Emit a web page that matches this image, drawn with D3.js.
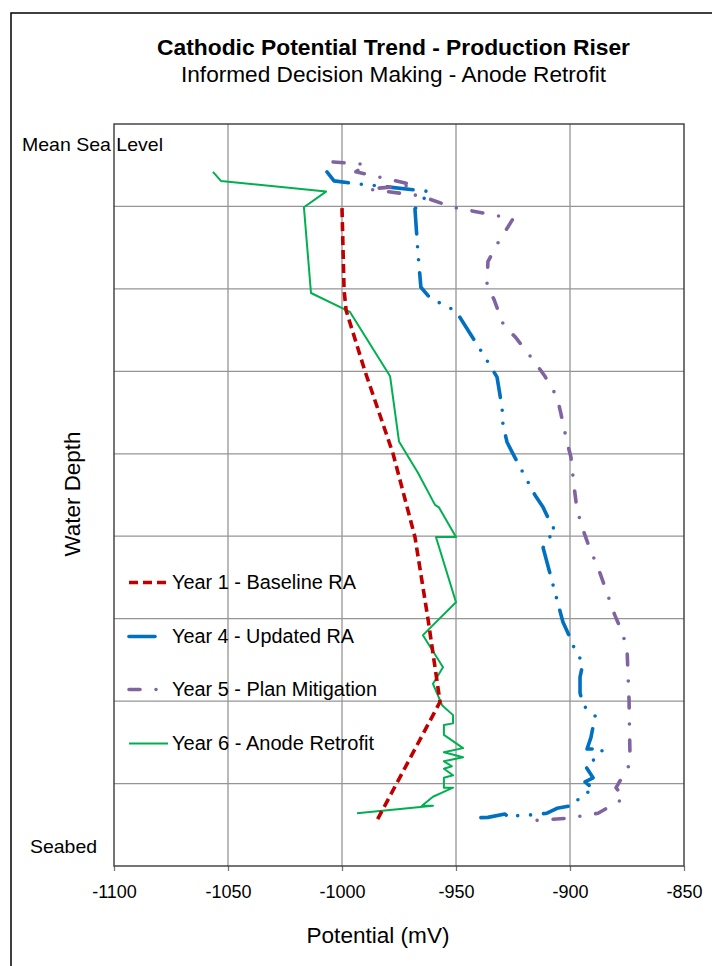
<!DOCTYPE html>
<html>
<head>
<meta charset="utf-8">
<script src="https://cdn.jsdelivr.net/npm/d3@7/dist/d3.min.js"></script>
<style>
  html, body { margin: 0; padding: 0; background: #fff; }
  svg { display: block; }
  text { font-family: "Liberation Sans", Arial, Helvetica, sans-serif; fill: #000; }
</style>
</head>
<body>
<svg id="chart" width="712" height="966"></svg>
<script>
// ---------- data ----------
const xTicks = [-1100, -1050, -1000, -950, -900, -850];
const depthGrid = [1, 2, 3, 4, 5, 6, 7, 8];
const seriesNames = ["Year 1 - Baseline RA", "Year 4 - Updated RA", "Year 5 - Plan Mitigation", "Year 6 - Anode Retrofit"];

// Year 1 - Baseline RA
const year1Potential = [-1000, -999.1, -998.2, -989.9, -977.6, -968, -962.3, -957, -985.1];
const year1Depth     = [1.02, 2.01, 2.26, 3.0, 4.0, 5.01, 6.0, 7.01, 8.47];

// Year 4 - Updated RA
const year4Potential = [-1006.6, -1003.5, -995.2, -981.1, -961.4, -968, -966.7, -965.4, -961.4, -950,
  -938.6, -932, -929.8, -929.4, -927.6, -925.4, -915.4, -911.8, -909.2, -906.1,
  -910.1, -911.8, -908.8, -906.6, -903.1, -900, -897.8, -894.3, -895.6, -895.6,
  -894.3, -889, -890.8, -892.5, -885.5, -887.7, -893.4, -889.9, -893.4, -889.5,
  -895.6, -897.8, -905.7, -910.1, -916.2, -921.9, -926.3, -928.5, -936, -944.7];
const year4Depth = [0.58, 0.69, 0.72, 0.76, 0.82, 1.03, 1.56, 1.98, 2.11, 2.27,
  2.77, 3.07, 3.44, 3.65, 3.86, 3.98, 4.50, 4.65, 4.80, 4.96,
  5.03, 5.14, 5.45, 5.68, 6.04, 6.23, 6.38, 6.54, 6.71, 6.90,
  7.05, 7.18, 7.44, 7.58, 7.58, 7.68, 7.78, 7.93, 7.98, 8.07,
  8.15, 8.26, 8.30, 8.36, 8.38, 8.38, 8.42, 8.37, 8.41, 8.42];

// Year 5 - Plan Mitigation
const year5Potential = [-1003.9, -989.5, -993.9, -968.4, -988.6, -965.8, -951.3, -925, -932, -936,
  -936.4, -933.3, -929, -924.1, -916.2, -911, -905.7, -904, -901.3, -899.6,
  -898.2, -896.9, -894.3, -892.1, -886.8, -880.3, -877.2, -875, -874.1, -873.7,
  -874.1, -879.8, -876.3, -887.7, -900.9, -916.2];
const year5Depth = [0.46, 0.49, 0.58, 0.74, 0.79, 0.87, 1.01, 1.15, 1.46, 1.67,
  1.95, 2.13, 2.45, 2.58, 2.86, 3.06, 3.31, 3.51, 3.86, 4.04,
  4.40, 4.68, 4.92, 5.09, 5.45, 5.96, 6.16, 6.36, 6.99, 7.65,
  7.78, 8.05, 8.18, 8.36, 8.42, 8.45];

// Year 6 - Anode Retrofit
const year6Potential = [-1056.6, -1053.1, -1007, -1016.7, -1013.6, -996.5, -978.9, -975, -966.7, -959.2,
  -957.5, -950, -958.8, -950, -964.5, -955.7, -960.1, -956.1, -951.3, -951.3,
  -955.3, -955.3, -946.9, -955.3, -946.9, -955.3, -951.8, -955.3, -951.3, -955.3,
  -955.3, -951.3, -956.1, -960.1, -963.6, -964.9, -960.1, -993.4];
const year6Depth = [0.58, 0.69, 0.82, 1.01, 2.05, 2.28, 3.06, 3.85, 4.23, 4.62,
  4.65, 5.01, 5.01, 5.80, 6.20, 6.59, 6.79, 7.05, 7.17, 7.27,
  7.29, 7.41, 7.57, 7.62, 7.68, 7.73, 7.79, 7.82, 7.90, 7.93,
  8.05, 8.05, 8.11, 8.16, 8.24, 8.27, 8.27, 8.36];

// ---------- layout ----------
const svg = d3.select("#chart");
const plot = { left: 114, right: 684, top: 124, bottom: 866 };
const x = d3.scaleLinear().domain([-1100, -850]).range([plot.left, plot.right]);
const y = d3.scaleLinear().domain([0, 9]).range([plot.top, plot.bottom]);

// outer frame
svg.append("rect").attr("x", 11).attr("y", 13).attr("width", 760).attr("height", 1000)
  .attr("fill", "none").attr("stroke", "#000").attr("stroke-width", 1.5);

// title
svg.append("text").attr("x", 393.5).attr("y", 55).attr("text-anchor", "middle")
  .attr("font-size", 22.5).attr("font-weight", "bold")
  .attr("textLength", 473).attr("lengthAdjust", "spacingAndGlyphs")
  .text("Cathodic Potential Trend - Production Riser");
svg.append("text").attr("x", 393.5).attr("y", 82).attr("text-anchor", "middle")
  .attr("font-size", 22.5)
  .attr("textLength", 425).attr("lengthAdjust", "spacingAndGlyphs")
  .text("Informed Decision Making - Anode Retrofit");

// gridlines
const grid = svg.append("g");
grid.selectAll("line.v").data(xTicks.slice(1, -1)).join("line")
  .attr("x1", d => x(d)).attr("x2", d => x(d)).attr("y1", plot.top).attr("y2", plot.bottom)
  .attr("stroke", "#959595").attr("stroke-width", 1.3);
grid.selectAll("line.h").data(depthGrid).join("line")
  .attr("x1", plot.left).attr("x2", plot.right).attr("y1", d => y(d)).attr("y2", d => y(d))
  .attr("stroke", "#959595").attr("stroke-width", 1.3);

// x axis
const xAxis = d3.axisBottom(x).tickValues(xTicks).tickSize(5).tickPadding(14).tickFormat(d3.format("d"));
const gx = svg.append("g").attr("transform", `translate(0,${plot.bottom})`).call(xAxis);
gx.select(".domain").remove();
gx.selectAll(".tick line").attr("stroke", "#777").attr("stroke-width", 1.3);
gx.selectAll(".tick text").attr("font-size", 18).attr("font-family", "Liberation Sans, Arial, sans-serif")
  .attr("fill", "#000").text(d => d < 0 ? "-" + Math.abs(d) : d);

// plot frame
svg.append("rect").attr("x", plot.left).attr("y", plot.top)
  .attr("width", plot.right - plot.left).attr("height", plot.bottom - plot.top)
  .attr("fill", "none").attr("stroke", "#3a3a3a").attr("stroke-width", 1.4);

// series
const line = d3.line().x(d => x(d[0])).y(d => y(d[1]));
const series = [
  { name: seriesNames[0], pot: year1Potential, dep: year1Depth, color: "#C00000", width: 3.6, dash: "9,5", cap: "butt" },
  { name: seriesNames[1], pot: year4Potential, dep: year4Depth, color: "#0070C0", width: 3.6, dash: "26,13,0,13,0,13", cap: "round" },
  { name: seriesNames[2], pot: year5Potential, dep: year5Depth, color: "#8064A2", width: 3.6, dash: "11,16,0,16", cap: "round" },
  { name: seriesNames[3], pot: year6Potential, dep: year6Depth, color: "#00B050", width: 2, dash: null, cap: "butt" }
];
const drawOrder = [3, 0, 1, 2];
drawOrder.forEach(i => {
  const s = series[i];
  svg.append("path")
    .datum(s.pot.map((p, k) => [p, s.dep[k]]))
    .attr("d", line).attr("fill", "none")
    .attr("stroke", s.color).attr("stroke-width", s.width)
    .attr("stroke-linecap", s.cap).attr("stroke-linejoin", "round")
    .attr("stroke-dasharray", s.dash);
});

// legend
const legendRows = [589, 643, 696, 750];
const legendWidths = [184, 182, 205, 202];
const legend = svg.append("g");
series.forEach((s, i) => {
  const cy = legendRows[i] - 6.5;
  legend.append("line").attr("x1", 129).attr("x2", i === 1 ? 158 : 168)
    .attr("y1", cy).attr("y2", cy)
    .attr("stroke", s.color).attr("stroke-width", s.width)
    .attr("stroke-linecap", s.cap).attr("stroke-dasharray", s.dash);
  legend.append("text").attr("x", 172).attr("y", legendRows[i]).attr("font-size", 19.5)
    .attr("textLength", legendWidths[i]).attr("lengthAdjust", "spacingAndGlyphs").text(s.name);
});

// depth annotations
svg.append("text").attr("x", 22).attr("y", 151).attr("font-size", 19)
  .attr("textLength", 141).attr("lengthAdjust", "spacingAndGlyphs").text("Mean Sea Level");
svg.append("text").attr("x", 30).attr("y", 853).attr("font-size", 19)
  .attr("textLength", 67).attr("lengthAdjust", "spacingAndGlyphs").text("Seabed");

// axis titles
svg.append("text").attr("x", 378).attr("y", 943).attr("text-anchor", "middle").attr("font-size", 22.5)
  .attr("textLength", 143).attr("lengthAdjust", "spacingAndGlyphs").text("Potential (mV)");
svg.append("text").attr("transform", "translate(80,494) rotate(-90)").attr("text-anchor", "middle")
  .attr("font-size", 22.5).attr("textLength", 125).attr("lengthAdjust", "spacingAndGlyphs").text("Water Depth");
</script>
</body>
</html>
